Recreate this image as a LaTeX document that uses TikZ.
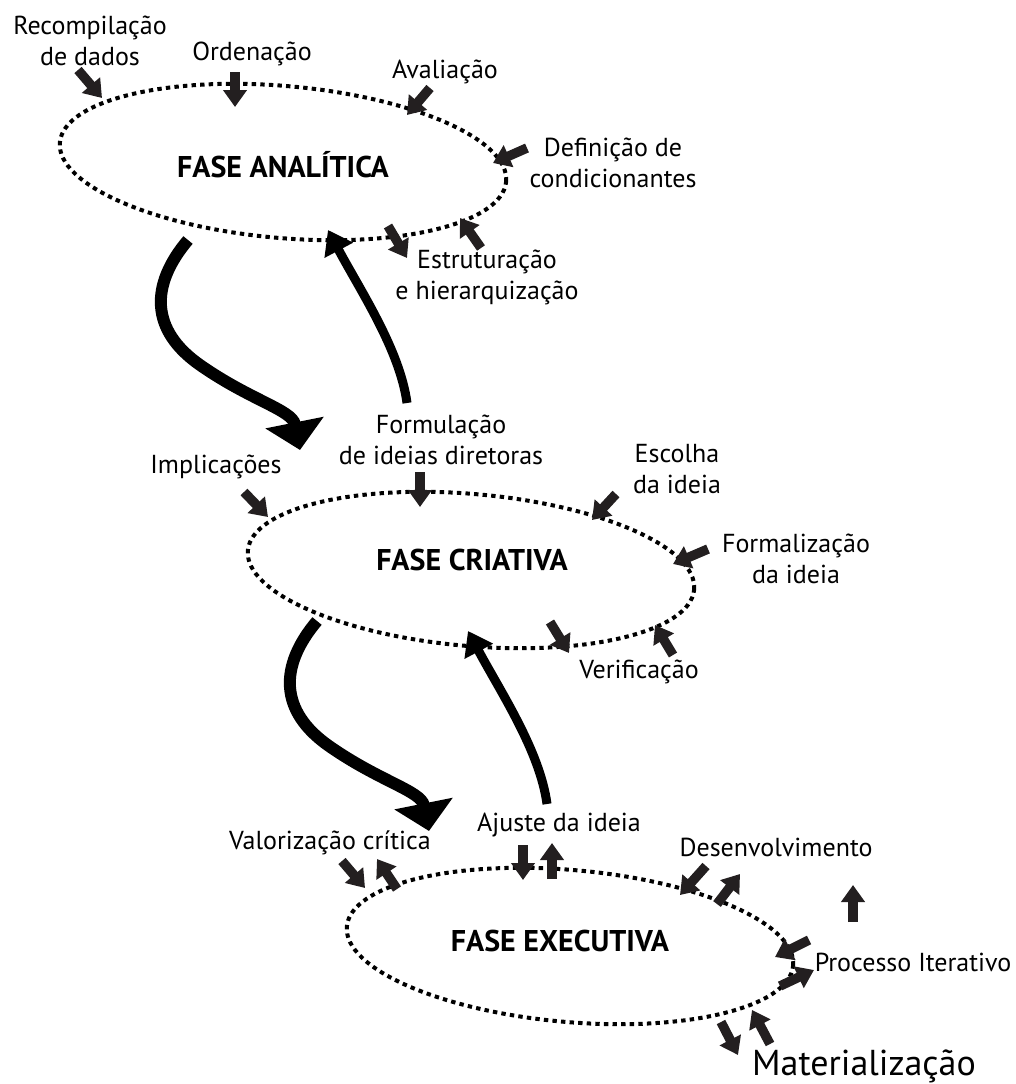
\documentclass[tikz,border=0pt]{standalone}
\usepackage{fontspec}
\setmainfont{PT Sans}
\usetikzlibrary{arrows.meta,shapes.geometric}
\definecolor{ink}{HTML}{231F20}
\newcommand\blkarr[3]{\coordinate (#1t) at (#2); \coordinate (#1h) at (#3); \draw[blk] (#1t) -- (#1h);}
\begin{document}
\begin{tikzpicture}[x=1pt,y=-1pt,
  phase/.style={draw=black, ellipse, line width=4pt, dash pattern=on 4.4pt off 4.2pt,
    minimum width=448pt, minimum height=152pt, inner sep=0pt, rotate=-5},
  title/.style={font=\fontsize{30}{34}\selectfont\bfseries, inner sep=0pt},
  lbl/.style={font=\fontsize{26}{31}\selectfont, align=center, inner sep=0pt},
  blk/.style={draw=ink, line width=9.5pt, -{Triangle[width=23pt,length=17pt]}, color=ink},
  bigdown/.style={line width=12pt, -{Triangle[width=58pt,length=28pt]}},
  bigup/.style={line width=9pt, -{Triangle[width=31pt,length=23pt]}},
]
\useasboundingbox[fill=white] (0,0) rectangle (1016,1084);

% phases
\node[phase] (E1) at (283,162) {};
\node[phase] (E2) at (471,570) {};
\node[phase] (E3) at (570,946) {};
\node[title] (T1) at (283,165) {FASE ANALÍTICA};
\node[title] (T2) at (472,560) {FASE CRIATIVA};
\node[title] (T3) at (560,941) {FASE EXECUTIVA};

% labels
\node[lbl] (L1) at (90,41) {Recompilação\\de dados};
\node[lbl] (L2) at (252,54) {Ordenação};
\node[lbl] (L3) at (445,72) {Avaliação};
\node[lbl] (L4) at (613,163) {Definição de\\condicionantes};
\node[lbl] (L5) at (487,277) {Estruturação\\e hierarquização};
\node[lbl] (L6) at (441,440) {Formulação\\de ideias diretoras};
\node[lbl] (L7) at (216,467) {Implicações};
\node[lbl] (L8) at (677,469) {Escolha\\da ideia};
\node[lbl] (L9) at (796,559) {Formalização\\da ideia};
\node[lbl] (L10) at (639,672) {Verificação};
\node[lbl] (L11) at (330,843) {Valorização crítica};
\node[lbl] (L12) at (559,825) {Ajuste da ideia};
\node[lbl] (L13) at (776,847) {Desenvolvimento};
\node[lbl] (L14) at (913,962) {Processo Iterativo};
\node[lbl, font=\fontsize{36}{40}\selectfont] (L15) at (864,1066) {Materialização};

% small arrows
\blkarr{a1}{78,70}{102,98}
\blkarr{a2}{235,72}{235,107}
\blkarr{a3}{430,88}{407,115}
\blkarr{a4}{527,148}{493,163}
\blkarr{a5}{388,226}{407,258}
\blkarr{a6}{481,248}{460,218}
\blkarr{a7}{244,492}{268,517}
\blkarr{a8}{420,472}{420,507}
\blkarr{a9}{616,494}{592,520}
\blkarr{a10}{708,549}{673,564}
\blkarr{a11}{550,622}{569,653}
\blkarr{a12}{673,655}{655,625}
\blkarr{a13}{342,861}{365,888}
\blkarr{a14}{397,889}{377,859}
\blkarr{a15}{523,845}{523,880}
\blkarr{a16}{552,879}{552,843}
\blkarr{a17}{706,866}{680,895}
\blkarr{a18}{717,904}{740,874}
\blkarr{a19}{853,922}{853,885}
\blkarr{a20}{809,940}{775,957}
\blkarr{a21}{780,986}{814,970}
\blkarr{a22}{721,1022}{738,1055}
\blkarr{a23}{770,1044}{752,1010}

% big arrows
\coordinate (d1s) at (188,240); \coordinate (d1e) at (300,450);
\draw[bigdown] (d1s) .. controls (150,285) and (150,330) .. (200,365)
  .. controls (250,400) and (292,410) .. (d1e);
\coordinate (u1s) at (407,403); \coordinate (u1e) at (328,230);
\draw[bigup] (u1s) .. controls (400,350) and (360,290) .. (u1e);

\coordinate (d2s) at (317,621); \coordinate (d2e) at (429,831);
\draw[bigdown] (d2s) .. controls (279,666) and (279,711) .. (329,746)
  .. controls (379,781) and (421,791) .. (d2e);
\coordinate (u2s) at (547,804); \coordinate (u2e) at (468,631);
\draw[bigup] (u2s) .. controls (540,751) and (500,691) .. (u2e);
\end{tikzpicture}
\end{document}
